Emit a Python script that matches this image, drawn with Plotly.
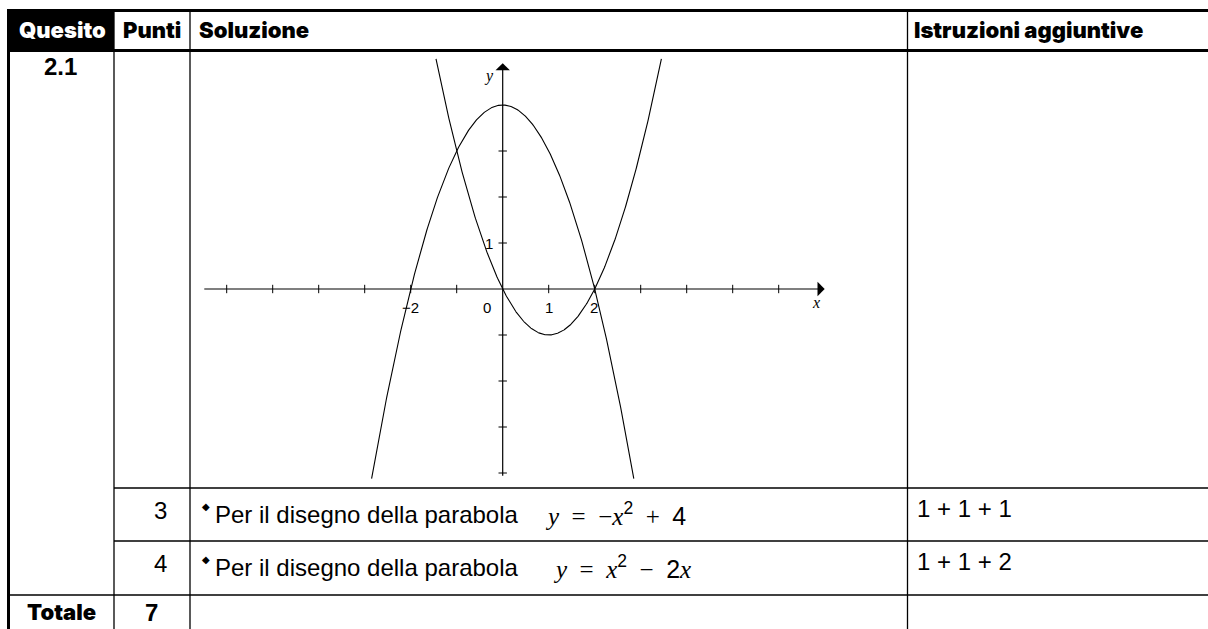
import numpy as np
import plotly.graph_objects as go

W, H = 1208, 629

# ---- table content ----
header_labels = ["Quesito", "Punti", "Soluzione", "Istruzioni aggiuntive"]
question_id = "2.1"
row_points = ["3", "4"]
row_solutions = ["Per il disegno della parabola", "Per il disegno della parabola"]
SANS = '<span style="font-family:Liberation Sans">{}</span>'
SP = "&nbsp; "
row_equations = [
    "<i>y</i>" + SP + "=" + SP + "−<i>x</i><sup>" + SANS.format("2") + "</sup>" + SP + "+" + SP + SANS.format("4"),
    "<i>y</i>" + SP + "=" + SP + "<i>x</i><sup>" + SANS.format("2") + "</sup>" + SP + "−" + SP + SANS.format("2") + "<i>x</i>",
]
row_instructions = ["1 + 1 + 1", "1 + 1 + 2"]
total_label = "Totale"
total_points = "7"

# ---- parabolas y = a*x^2 + b*x + c ----
parab_a = [-1, 1]
parab_b = [0, -2]
parab_c = [4, 0]
parab_xmin = [-2.85, -1.45]
parab_xmax = [2.85, 3.45]

# ---- cartesian axes ----
x_ticks = [-6, -5, -4, -3, -2, -1, 1, 2, 3, 4, 5, 6]
y_ticks = [-4, -3, -2, -1, 1, 2, 3]
x_tick_labels = ["−2", "0", "1", "2"]
x_tick_label_pos = [-2.0, -0.35, 1.0, 1.98]
y_tick_labels = ["1"]
y_tick_label_pos = [1.0]
x_axis_span = [-6.52, 7.0]
y_axis_span = [-4.09, 4.91]

# graph placement on the page: origin pixel and pixels per unit
ORIGIN_PX = (502.7, 289.0)
UNIT = 46.0

BODY_FONT = "Liberation Sans, Arial, sans-serif"
HEAD_FONT = "Arial Black, Inter, Liberation Sans, sans-serif"
MATH_FONT = "Liberation Serif, Times New Roman, serif"

fig = go.Figure()

# parabolas
for a, b, c, x0, x1 in zip(parab_a, parab_b, parab_c, parab_xmin, parab_xmax):
    xs = np.linspace(x0, x1, 400)
    fig.add_trace(go.Scatter(
        x=xs, y=a * xs**2 + b * xs + c, mode="lines",
        line=dict(color="black", width=1.1), hoverinfo="skip", showlegend=False,
    ))

# tick marks on the axes
fig.add_trace(go.Scatter(
    x=x_ticks, y=[0] * len(x_ticks), mode="markers",
    marker=dict(symbol="line-ns", size=6, line=dict(color="black", width=1)),
    hoverinfo="skip", showlegend=False,
))
fig.add_trace(go.Scatter(
    x=[0] * len(y_ticks), y=y_ticks, mode="markers",
    marker=dict(symbol="line-ew", size=6, line=dict(color="black", width=1)),
    hoverinfo="skip", showlegend=False,
))

# axis lines with arrow heads
for (x_tip, y_tip, x_tail, y_tail) in [(x_axis_span[1], 0, x_axis_span[0], 0),
                                       (0, y_axis_span[1], 0, y_axis_span[0])]:
    fig.add_annotation(x=x_tip, y=y_tip, ax=x_tail, ay=y_tail,
                       xref="x", yref="y", axref="x", ayref="y", text="",
                       showarrow=True, arrowhead=1, arrowsize=2.0, arrowwidth=1.2,
                       arrowcolor="black", standoff=0, startstandoff=0)

# axis names and tick labels
fig.add_annotation(x=6.8, y=-0.3, xref="x", yref="y", text="<i>x</i>", showarrow=False,
                   font=dict(family=MATH_FONT, size=16, color="black"))
fig.add_annotation(x=-0.3, y=4.63, xref="x", yref="y", text="<i>y</i>", showarrow=False,
                   font=dict(family=MATH_FONT, size=16, color="black"))
for lab, pos in zip(x_tick_labels, x_tick_label_pos):
    fig.add_annotation(x=pos, y=-0.4, xref="x", yref="y", text=lab, showarrow=False,
                       font=dict(family=BODY_FONT, size=15, color="black"))
for lab, pos in zip(y_tick_labels, y_tick_label_pos):
    fig.add_annotation(x=-0.3, y=pos, xref="x", yref="y", text=lab, showarrow=False,
                       font=dict(family=BODY_FONT, size=15, color="black"))

# ---- table grid (page pixel coordinates on x2 / y2) ----
def hline(y, x0, x1, w):
    fig.add_shape(type="line", xref="x2", yref="y2", x0=x0, x1=x1, y0=y, y1=y,
                  line=dict(color="black", width=w))

def vline(x, y0, y1, w):
    fig.add_shape(type="line", xref="x2", yref="y2", x0=x, x1=x, y0=y0, y1=y1,
                  line=dict(color="black", width=w))

COL = [8.5, 114, 190, 907.5]
fig.add_shape(type="rect", xref="x2", yref="y2", x0=7, x1=114, y0=10, y1=51,
              fillcolor="black", line=dict(width=0))
hline(10.5, 7, W, 3)
hline(50.5, 7, W, 3)
vline(COL[0], 9, H, 3)
vline(COL[1], 10, H, 1.3)
vline(COL[2], 10, H, 1.3)
vline(COL[3], 10, H, 1.3)
hline(488, COL[1], W, 1.3)
hline(541, COL[1], W, 1.3)
hline(595, 7, W, 1.5)

def text(x, y, s, size, family=BODY_FONT, color="black", anchor="left", weight=None):
    f = dict(family=family, size=size, color=color)
    if weight:
        f["weight"] = weight
    fig.add_annotation(x=x, y=y, xref="x2", yref="y2", text=s, showarrow=False,
                       xanchor=anchor, yanchor="middle", font=f)

# header
text(62, 30, header_labels[0], 22, HEAD_FONT, "white", "center", 900)
text(152, 30, header_labels[1], 22, HEAD_FONT, "black", "center", 900)
text(197, 30, header_labels[2], 22, HEAD_FONT, "black", "left", 900)
text(912, 30, header_labels[3], 22, HEAD_FONT, "black", "left", 900)

# question id and totals
text(60, 66, question_id, 24, BODY_FONT, "black", "center", 700)
text(61, 612, total_label, 22, HEAD_FONT, "black", "center", 900)
text(151, 612, total_points, 24, BODY_FONT, "black", "center", 700)

# scoring rows
row_y = [514, 567]
for py, pts, sol, eq, ins, eq_x in zip(row_y, row_points, row_solutions,
                                        row_equations, row_instructions, [543, 551]):
    text(151.5, py - 4, pts, 24)
    text(200, py - 8, "◆", 10)
    text(213, py, sol, 24)
    text(eq_x, py, eq, 25, MATH_FONT)
    text(915, py - 6, ins, 24)

fig.update_layout(
    width=W, height=H,
    margin=dict(l=0, r=0, t=0, b=0),
    paper_bgcolor="white", plot_bgcolor="white",
    showlegend=False,
    xaxis=dict(range=[-ORIGIN_PX[0] / UNIT, (W - ORIGIN_PX[0]) / UNIT], domain=[0, 1],
               visible=False, fixedrange=True),
    yaxis=dict(range=[(ORIGIN_PX[1] - H) / UNIT, ORIGIN_PX[1] / UNIT], domain=[0, 1],
               visible=False, fixedrange=True),
    xaxis2=dict(range=[0, W], overlaying="x", anchor="y2", visible=False, fixedrange=True),
    yaxis2=dict(range=[H, 0], overlaying="y", anchor="x2", visible=False, fixedrange=True),
)

fig.write_html("out.html")
